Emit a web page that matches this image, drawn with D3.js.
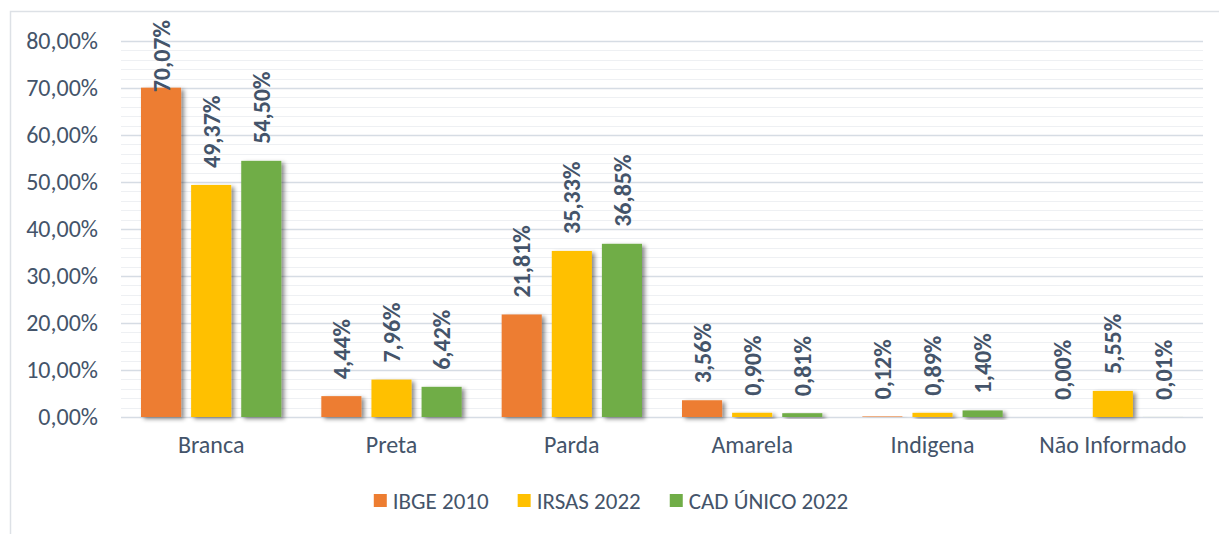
<!DOCTYPE html>
<html>
<head>
<meta charset="utf-8">
<script src="https://cdn.jsdelivr.net/npm/d3@7"></script>
<style>
  body { margin: 0; background: #fff; }
  text { font-family: Carlito, Calibri, Lato, "Open Sans", sans-serif; fill: #44546a; }
</style>
</head>
<body>
<div id="chart"></div>
<script>
    // chart data
    const categories = ["Branca", "Preta", "Parda", "Amarela", "Indigena", "Não Informado"];
    const seriesNames = ["IBGE 2010", "IRSAS 2022", "CAD ÚNICO 2022"];
    const ibge2010 = [70.07, 4.44, 21.81, 3.56, 0.12, 0.00];
    const irsas2022 = [49.37, 7.96, 35.33, 0.90, 0.89, 5.55];
    const cadUnico2022 = [54.50, 6.42, 36.85, 0.81, 1.40, 0.01];
    const seriesColors = ["#ed7d31", "#ffc000", "#70ad47"];
    const yTicks = [0, 10, 20, 30, 40, 50, 60, 70, 80];

    const allSeries = [ibge2010, irsas2022, cadUnico2022];
    const fmt = v => v.toFixed(2).replace(".", ",") + "%";

    const width = 1219, height = 534;
    const plot = {left: 121, right: 1203, top: 41, bottom: 417};

    const svg = d3.select("#chart")
        .append("svg")
        .attr("width", width)
        .attr("height", height);

    // drop shadow like the excel bars
    const defs = svg.append("defs");
    defs.append("filter")
        .attr("id", "shadow")
        .attr("x", "-20%").attr("y", "-20%")
        .attr("width", "160%").attr("height", "160%")
        .append("feDropShadow")
        .attr("dx", 3).attr("dy", 2)
        .attr("stdDeviation", 2)
        .attr("flood-color", "#000")
        .attr("flood-opacity", 0.45);

    // outer chart frame
    svg.append("rect")
        .attr("x", 10.5).attr("y", 11.5)
        .attr("width", width).attr("height", height)
        .attr("fill", "none")
        .attr("stroke", "#dde1e6")
        .attr("stroke-width", 1.5);

    const xScale = d3.scaleBand()
        .domain(categories)
        .range([plot.left, plot.right]);

    const innerScale = d3.scaleBand()
        .domain(seriesNames)
        .range([20, xScale.bandwidth() - 20])
        .paddingInner(0.2);

    const yScale = d3.scaleLinear()
        .domain([0, 80])
        .range([plot.bottom, plot.top]);

    // minor gridlines every 2%
    svg.append("g")
        .selectAll("line")
        .data(d3.range(0, 81, 2).filter(v => v % 10 !== 0))
        .join("line")
        .attr("x1", plot.left).attr("x2", plot.right)
        .attr("y1", d => Math.round(yScale(d)) + 0.5)
        .attr("y2", d => Math.round(yScale(d)) + 0.5)
        .attr("stroke", "#eef0f3")
        .attr("stroke-width", 1);

    // y axis, used only for its labels and major gridlines
    const yAxis = svg.append("g")
        .attr("transform", "translate(" + plot.left + ",0)")
        .call(d3.axisLeft(yScale)
            .tickValues(yTicks)
            .tickSize(-(plot.right - plot.left))
            .tickPadding(23)
            .tickFormat(fmt));
    yAxis.select(".domain").remove();
    yAxis.selectAll(".tick line")
        .attr("stroke", "#d6dce4")
        .attr("stroke-width", 1.5);
    yAxis.selectAll(".tick text")
        .style("font-size", "24px")
        .attr("fill", "#44546a");

    // x axis labels
    const xAxis = svg.append("g")
        .attr("transform", "translate(0," + plot.bottom + ")")
        .call(d3.axisBottom(xScale).tickSize(0).tickPadding(19));
    xAxis.select(".domain").remove();
    xAxis.selectAll(".tick text")
        .style("font-size", "24px")
        .attr("fill", "#44546a");

    const data = seriesNames.map((name, i) => ({
        name: name,
        color: seriesColors[i],
        values: categories.map((c, j) => ({category: c, value: allSeries[i][j]}))
    }));

    const groups = svg.selectAll("myGroups")
        .data(data)
        .join("g")
        .attr("fill", d => d.color);

    groups.selectAll("rect")
        .data(d => d.values.map(v => ({...v, name: d.name})))
        .join("rect")
        .attr("x", d => xScale(d.category) + innerScale(d.name))
        .attr("y", d => yScale(d.value))
        .attr("width", innerScale.bandwidth())
        .attr("height", d => plot.bottom - yScale(d.value))
        .attr("filter", "url(#shadow)");

    // rotated value labels
    groups.selectAll("text")
        .data(d => d.values.map(v => ({...v, name: d.name})))
        .join("text")
        .text(d => fmt(d.value))
        .style("font-size", "24px")
        .style("font-weight", "bold")
        .attr("dy", "0.36em")
        .attr("transform", function (d) {
            const cx = xScale(d.category) + innerScale(d.name) + innerScale.bandwidth() / 2;
            const len = this.getComputedTextLength();
            const bottom = Math.max(yScale(d.value) - 17, 20 + len);
            return "translate(" + cx + "," + bottom + ") rotate(-90)";
        });

    // legend
    const legend = svg.append("g");
    let lx = 0;
    seriesNames.forEach((name, i) => {
        const item = legend.append("g").attr("transform", "translate(" + lx + ",0)");
        item.append("rect")
            .attr("x", 0).attr("y", -7)
            .attr("width", 13).attr("height", 13)
            .attr("fill", seriesColors[i]);
        const t = item.append("text")
            .attr("x", 19).attr("dy", "0.35em")
            .style("font-size", "23px")
            .text(name);
        lx += 19 + t.node().getComputedTextLength() + 29;
    });
    const legendWidth = lx - 29;
    legend.attr("transform", "translate(" + (611 - legendWidth / 2) + ",501)");
</script>
</body>
</html>
